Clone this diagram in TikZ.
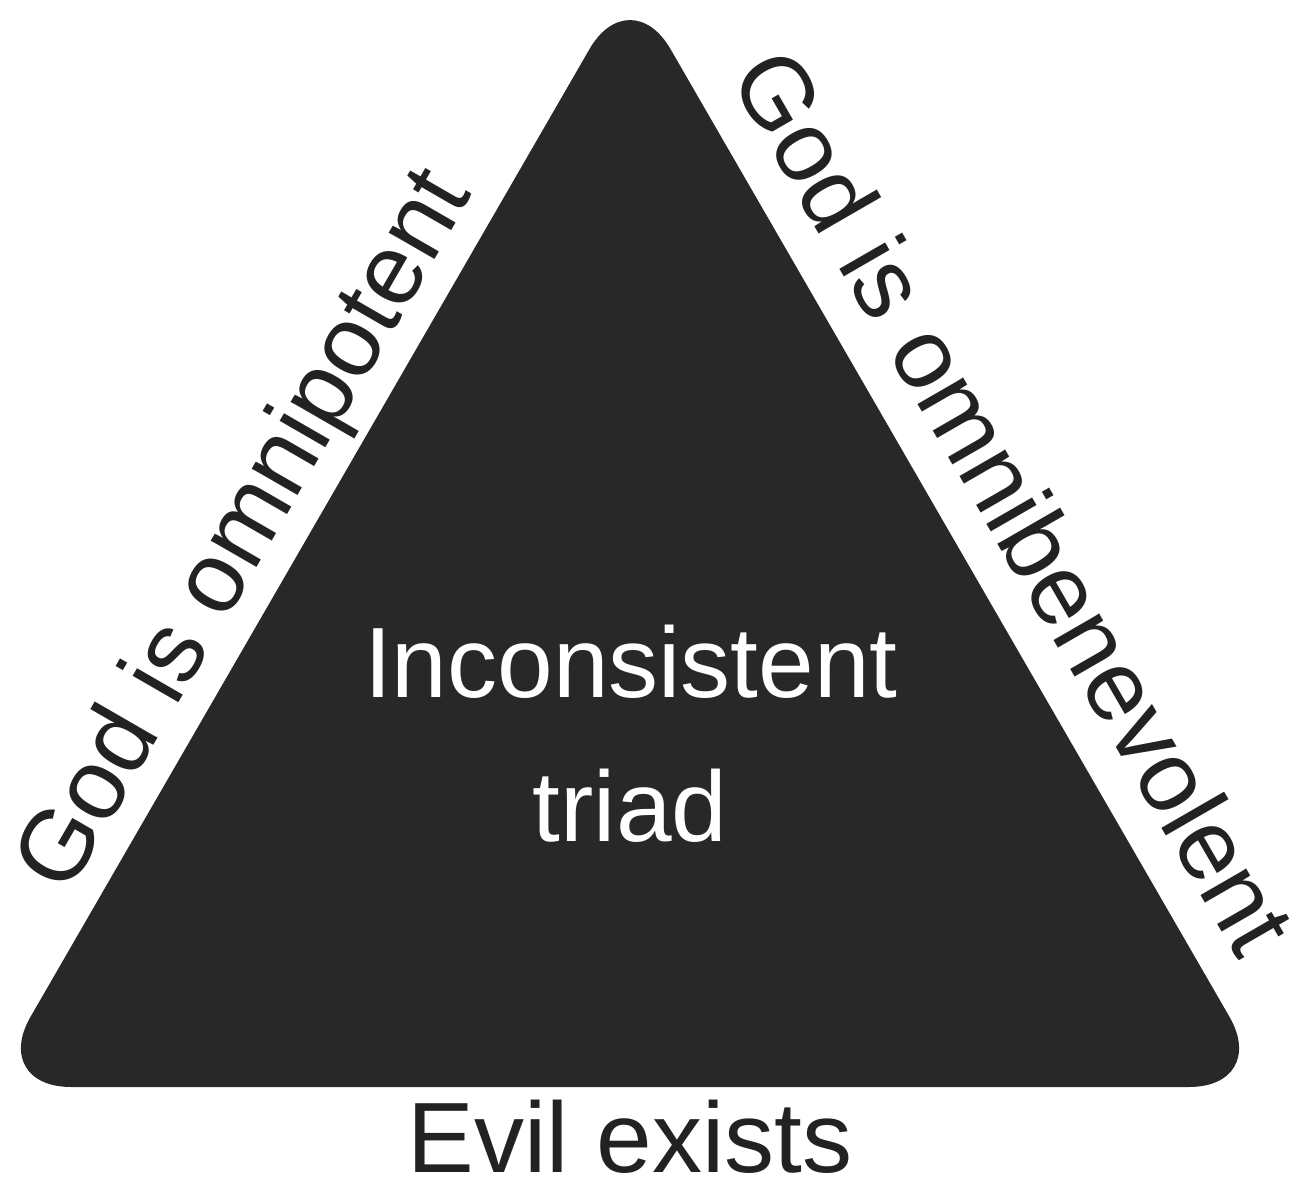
\documentclass[tikz,border=0pt]{standalone}
\usepackage{fontspec}
\setmainfont{Liberation Sans}
\definecolor{tri}{RGB}{40,40,40}
\definecolor{lab}{RGB}{34,34,34}
\begin{document}
\begin{tikzpicture}[x=1pt,y=1pt,
  lbl/.style={inner sep=0pt,anchor=base,text=lab,font=\fontsize{100}{120}\selectfont},
  inner/.style={inner sep=0pt,anchor=base,text=white,font=\fontsize{100}{120}\selectfont}]
\useasboundingbox[fill=white] (0,0) rectangle (1304,1200);
\coordinate (BL) at (-10,113);
\coordinate (AP) at (630,1221);
\coordinate (BR) at (1270,113);
\fill[tri,rounded corners=81pt] (630,113) -- (BR) -- (AP) -- (BL) -- cycle;
\node[inner] (inc) at (631,502) {Inconsistent};
\node[inner] (triad) at (630,358) {triad};
\node[lbl,rotate=60] (omnip) at (270,655) {God is omnipotent};
\node[lbl,rotate=-60] (omnib) at (984,681) {God is omnibenevolent};
\node[lbl] (evil) at (630,28) {Evil exists};
\end{tikzpicture}
\end{document}
